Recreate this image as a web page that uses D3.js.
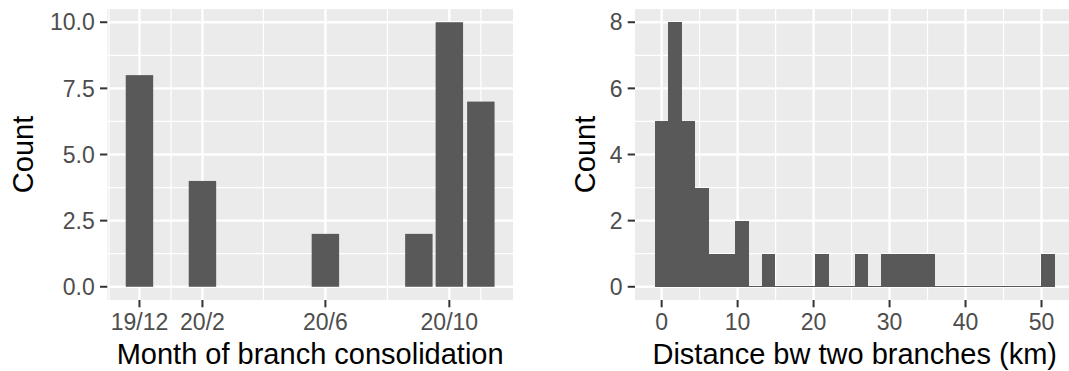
<!DOCTYPE html>
<html>
<head>
<meta charset="utf-8">
<script src="https://cdn.jsdelivr.net/npm/d3@7"></script>
<style>
  body { margin: 0; background: #fff; }
  text { font-family: "Liberation Sans", Arial, sans-serif; }
</style>
</head>
<body>
<div id="chart"></div>
<script>
// left panel: month of consolidation
let monthDates = ["2019-12-01", "2020-02-01", "2020-06-01", "2020-09-01", "2020-10-01", "2020-11-01"];
let monthCounts = [8, 4, 2, 2, 10, 7];
let monthTicks = ["2019-12-01", "2020-02-01", "2020-06-01", "2020-10-01"];
let monthTickLabels = ["19/12", "20/2", "20/6", "20/10"];
let monthMinor = ["2019-11-01", "2020-01-01", "2020-04-01", "2020-08-01", "2020-11-01"];
let countTicksLeft = [0, 2.5, 5, 7.5, 10];

// right panel: distance histogram (30 bins)
let distBinCounts = [5, 8, 5, 3, 1, 1, 2, 0, 1, 0, 0, 0, 1, 0, 0, 1, 0, 1, 1, 1, 1, 0, 0, 0, 0, 0, 0, 0, 0, 1];
let distFirstCenter = 0;
let distBinWidth = 1.753;
let distTicks = [0, 10, 20, 30, 40, 50];
let countTicksRight = [0, 2, 4, 6, 8];

let svgWidth = 1069;
let svgHeight = 371;

let barColor = "#595959";
let panelColor = "#EBEBEB";
let tickColor = "#333333";
let labelColor = "#4D4D4D";

let svg = d3.select("#chart").append("svg")
  .attr("width", svgWidth)
  .attr("height", svgHeight);

let parse = d3.timeParse("%Y-%m-%d");
let panelTop = 9, panelBottom = 300;

function expand(lo, hi) {
  let pad = (hi - lo) * 0.05;
  return [lo - pad, hi + pad];
}

// draws the grey panel, grid, ticks and labels
function drawFrame(x, y, xMajor, xMinor, xLabels, yMajor, yMinor, yFmt, xTitle, yTitleX) {
  let [x0, x1] = x.range();
  svg.append("rect")
    .attr("x", x0).attr("y", panelTop)
    .attr("width", x1 - x0).attr("height", panelBottom - panelTop)
    .attr("fill", panelColor);

  let g = svg.append("g");
  g.selectAll(".vminor").data(xMinor).enter().append("line")
    .attr("x1", d => x(d)).attr("x2", d => x(d))
    .attr("y1", panelTop).attr("y2", panelBottom)
    .attr("stroke", "#fff").attr("stroke-width", 1.2);
  g.selectAll(".hminor").data(yMinor).enter().append("line")
    .attr("x1", x0).attr("x2", x1)
    .attr("y1", d => y(d)).attr("y2", d => y(d))
    .attr("stroke", "#fff").attr("stroke-width", 1.2);
  g.selectAll(".vmajor").data(xMajor).enter().append("line")
    .attr("x1", d => x(d)).attr("x2", d => x(d))
    .attr("y1", panelTop).attr("y2", panelBottom)
    .attr("stroke", "#fff").attr("stroke-width", 2.4);
  g.selectAll(".hmajor").data(yMajor).enter().append("line")
    .attr("x1", x0).attr("x2", x1)
    .attr("y1", d => y(d)).attr("y2", d => y(d))
    .attr("stroke", "#fff").attr("stroke-width", 2.4);

  // y axis ticks + labels
  let ya = svg.append("g");
  ya.selectAll("line").data(yMajor).enter().append("line")
    .attr("x1", x0 - 7.3).attr("x2", x0)
    .attr("y1", d => y(d)).attr("y2", d => y(d))
    .attr("stroke", tickColor).attr("stroke-width", 2);
  ya.selectAll("text").data(yMajor).enter().append("text")
    .attr("x", x0 - 12.5)
    .attr("y", d => y(d) + 8.2)
    .attr("text-anchor", "end")
    .attr("font-size", "23px")
    .attr("fill", labelColor)
    .text(yFmt);

  // x axis ticks + labels
  let xa = svg.append("g");
  xa.selectAll("line").data(xMajor).enter().append("line")
    .attr("x1", d => x(d)).attr("x2", d => x(d))
    .attr("y1", panelBottom).attr("y2", panelBottom + 7.3)
    .attr("stroke", tickColor).attr("stroke-width", 2);
  xa.selectAll("text").data(xMajor).enter().append("text")
    .attr("x", d => x(d))
    .attr("y", 330)
    .attr("text-anchor", "middle")
    .attr("font-size", "23px")
    .attr("fill", labelColor)
    .text((d, i) => xLabels[i]);

  svg.append("text")
    .attr("x", (x0 + x1) / 2)
    .attr("y", 364)
    .attr("text-anchor", "middle")
    .attr("font-size", "29px")
    .attr("fill", "#000")
    .text(xTitle);

  svg.append("text")
    .attr("transform", `translate(${yTitleX},${(panelTop + panelBottom) / 2}) rotate(-90)`)
    .attr("text-anchor", "middle")
    .attr("font-size", "29px")
    .attr("fill", "#000")
    .text("Count");
}

// ---------- left chart ----------
let dayMs = 24 * 3600 * 1000;
let barHalf = 13.5 * dayMs; // 0.9 * 30 days / 2
let dates = monthDates.map(parse);
let dLo = d3.min(dates).getTime() - barHalf;
let dHi = d3.max(dates).getTime() + barHalf;
let xLeft = d3.scaleTime()
  .domain(expand(dLo, dHi).map(t => new Date(t)))
  .range([107.3, 513]);
let yLeft = d3.scaleLinear().domain(expand(0, 10)).range([panelBottom, panelTop]);

drawFrame(
  xLeft, yLeft,
  monthTicks.map(parse), monthMinor.map(parse), monthTickLabels,
  countTicksLeft, [1.25, 3.75, 6.25, 8.75], d => d3.format(".1f")(d),
  "Month of branch consolidation", 33
);

svg.append("g").selectAll("rect")
  .data(dates)
  .enter()
  .append("rect")
  .attr("x", d => xLeft(new Date(d.getTime() - barHalf)))
  .attr("width", d => xLeft(new Date(d.getTime() + barHalf)) - xLeft(new Date(d.getTime() - barHalf)))
  .attr("y", (d, i) => yLeft(monthCounts[i]))
  .attr("height", (d, i) => yLeft(0) - yLeft(monthCounts[i]))
  .attr("fill", barColor);

// ---------- right chart ----------
let bins = distBinCounts.map((c, i) => ({
  x0: distFirstCenter - distBinWidth / 2 + i * distBinWidth,
  x1: distFirstCenter + distBinWidth / 2 + i * distBinWidth,
  count: c
}));
let xRight = d3.scaleLinear()
  .domain(expand(bins[0].x0, bins[bins.length - 1].x1))
  .range([635, 1074.5]);
let yRight = d3.scaleLinear().domain(expand(0, 8)).range([panelBottom, panelTop]);

drawFrame(
  xRight, yRight,
  distTicks, [5, 15, 25, 35, 45], distTicks.map(String),
  countTicksRight, [1, 3, 5, 7], d => String(d),
  "Distance bw two branches (km)", 595
);

let hist = svg.append("g").attr("shape-rendering", "crispEdges");
hist.selectAll("rect")
  .data(bins.filter(b => b.count > 0))
  .enter()
  .append("rect")
  .attr("x", d => xRight(d.x0))
  .attr("width", d => xRight(d.x1) - xRight(d.x0) + 0.4)
  .attr("y", d => yRight(d.count))
  .attr("height", d => yRight(0) - yRight(d.count))
  .attr("fill", barColor);
// empty bins show as a thin line on the baseline
hist.selectAll("line")
  .data(bins.filter(b => b.count === 0))
  .enter()
  .append("line")
  .attr("x1", d => xRight(d.x0))
  .attr("x2", d => xRight(d.x1))
  .attr("y1", yRight(0))
  .attr("y2", yRight(0))
  .attr("stroke", barColor)
  .attr("stroke-width", 1);
</script>
</body>
</html>
